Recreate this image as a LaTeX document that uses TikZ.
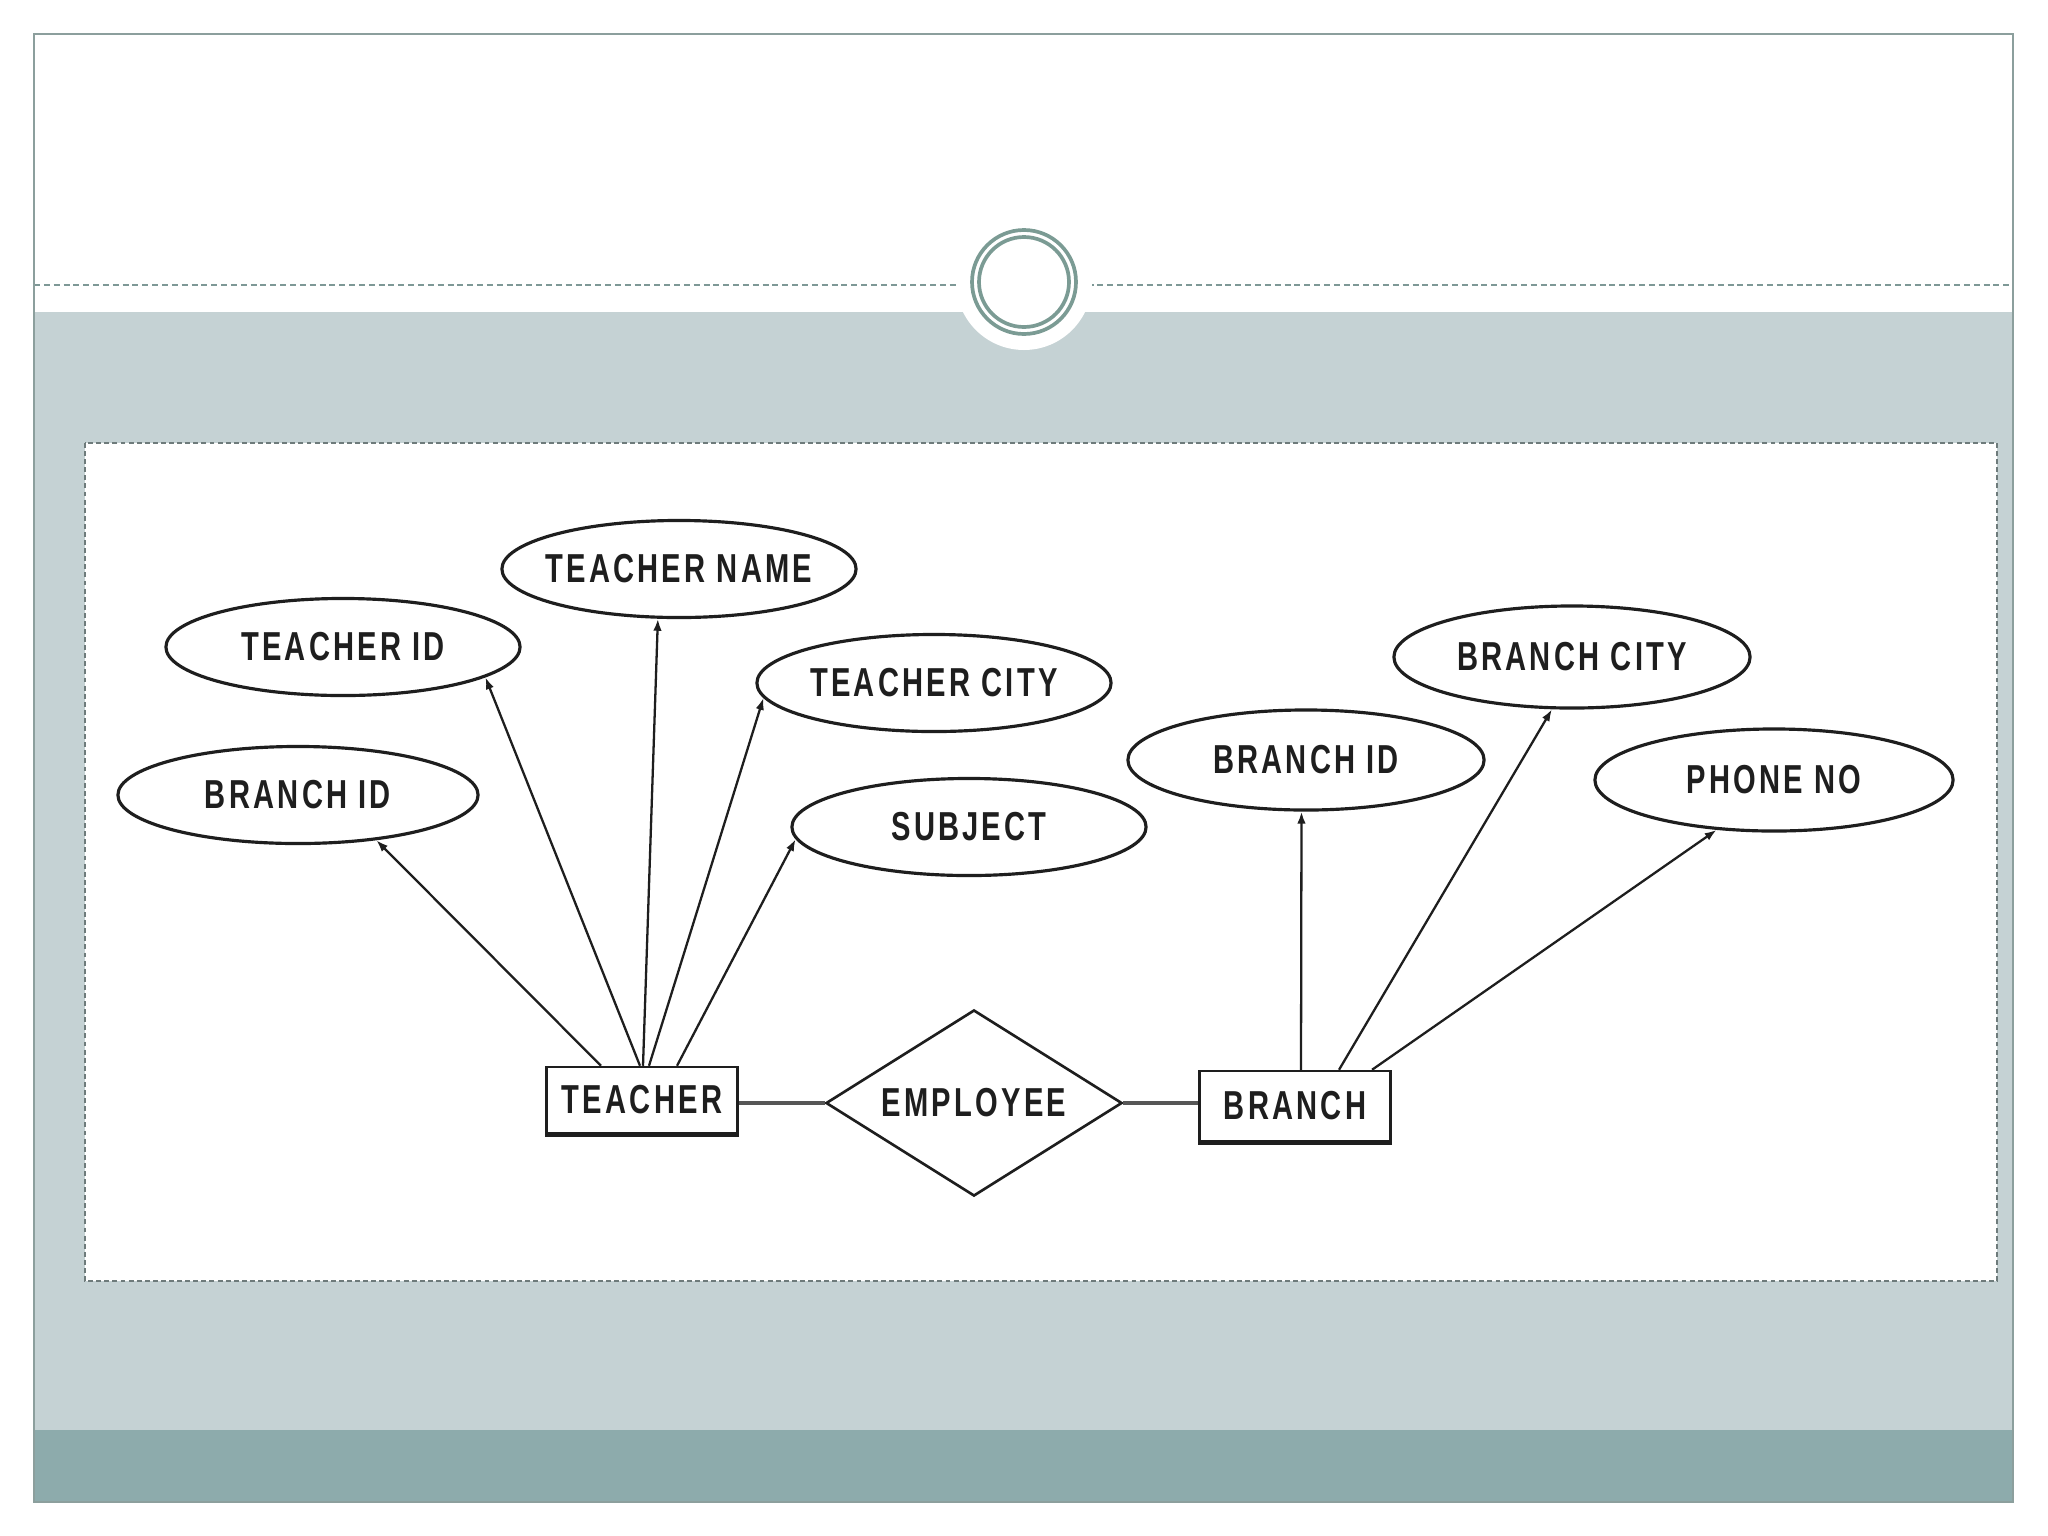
\documentclass[tikz,border=0pt]{standalone}
\usepackage{fontspec}
\usetikzlibrary{shapes.geometric,arrows.meta}
\newfontfamily\erfont[FakeStretch=0.72,LetterSpace=8]{Liberation Sans}
\definecolor{framec}{HTML}{8C9F9D}
\definecolor{dashc}{HTML}{7E9896}
\definecolor{bandc}{HTML}{C5D2D4}
\definecolor{darkband}{HTML}{8DABAC}
\definecolor{ringc}{HTML}{7B9B94}
\definecolor{boxc}{HTML}{6E7B7B}
\definecolor{inkc}{HTML}{1E1E1E}
\newcommand{\zw}[1]{\makebox[0pt]{#1}}
\begin{document}
\begin{tikzpicture}[x=0.01cm,y=-0.01cm,
  lbl/.style={font=\erfont\bfseries\fontsize{11.5}{12}\selectfont, text=inkc},
  attr/.style={lbl, ellipse, draw=inkc, line width=0.9pt, inner sep=0pt,
     minimum width=3.54cm, minimum height=0.97cm},
  ent/.style={lbl, rectangle, draw=inkc, line width=0.7pt, inner sep=0pt,
     minimum width=1.91cm, minimum height=0.66cm},
  rel/.style={lbl, diamond, draw=inkc, line width=0.75pt, inner sep=0pt,
     minimum width=2.96cm, minimum height=1.86cm},
  conn/.style={draw=inkc, line width=0.65pt, -{Latex[length=3.4pt,width=2.4pt]}},
  link/.style={draw=inkc!75, line width=1.3pt}
]
\useasboundingbox (0,0) rectangle (2048,1536);
\fill[white] (0,0) rectangle (2048,1536);
% slide background
\fill[bandc] (34,312) rectangle (2013,1430);
\fill[darkband] (34,1430) rectangle (2013,1502);
\draw[dashc, line width=0.45pt, dash pattern=on 1.7pt off 1.1pt] (34,285) -- (2013,285);
\draw[framec, line width=0.6pt] (34,34) rectangle (2013,1502);
% circle ornament
\fill[white] (1024,282) circle (68);
\draw[ringc, line width=1.05pt] (1024,282) circle (52);
\draw[ringc, line width=1.05pt] (1024,282) circle (45);
% inner picture frame
\draw[boxc, fill=white, line width=0.45pt, dash pattern=on 1.4pt off 0.9pt] (85,443) rectangle (1997,1281);
% attributes
\node[attr] (tname) at (679,569) {\zw{TEACHER NAME}};
\node[attr] (tid) at (343,647) {\zw{TEACHER ID}};
\node[attr] (tcity) at (934,683) {\zw{TEACHER CITY}};
\node[attr, minimum width=3.6cm] (bidl) at (298,795) {\zw{BRANCH ID}};
\node[attr] (subj) at (969,827) {\zw{SUBJECT}};
\node[attr, minimum width=3.56cm, minimum height=1.0cm] (bidr) at (1306,760) {\zw{BRANCH ID}};
\node[attr, minimum width=3.56cm, minimum height=1.02cm] (bcity) at (1572,657) {\zw{BRANCH CITY}};
\node[attr, minimum width=3.58cm, minimum height=1.02cm] (phone) at (1774,780) {\zw{PHONE NO}};
% entities and relationship
\node[ent] (t) at (642,1100) {\zw{TEACHER}};
\node[rel] (emp) at (974,1103) {\zw{EMPLOYEE}};
\node[ent, minimum height=0.7cm] (b) at (1295,1106) {\zw{BRANCH}};
\draw[inkc, line width=1.3pt] (t.south west) -- (t.south east);
\draw[inkc, line width=1.3pt] (b.south west) -- (b.south east);
% links
\draw[link] (emp.west) -- (emp.west -| t.east);
\draw[link] (emp.east) -- (emp.east -| b.west);
% attribute connectors
\draw[conn] ([xshift=-0.41cm]t.north) -- (bidl.-30);
\draw[conn] ([xshift=-0.02cm]t.north) -- (tid.-12);
\draw[conn] ([xshift=0.01cm]t.north) -- (tname.-113);
\draw[conn] ([xshift=0.07cm]t.north) -- (tcity.-175);
\draw[conn] ([xshift=0.35cm]t.north) -- (subj.-176);
\draw[conn] ([xshift=0.06cm]b.north) -- (bidr.-95);
\draw[conn] ([xshift=0.44cm]b.north) -- (bcity.-111);
\draw[conn] ([xshift=0.77cm]b.north) -- (phone.-139);
\end{tikzpicture}
\end{document}
